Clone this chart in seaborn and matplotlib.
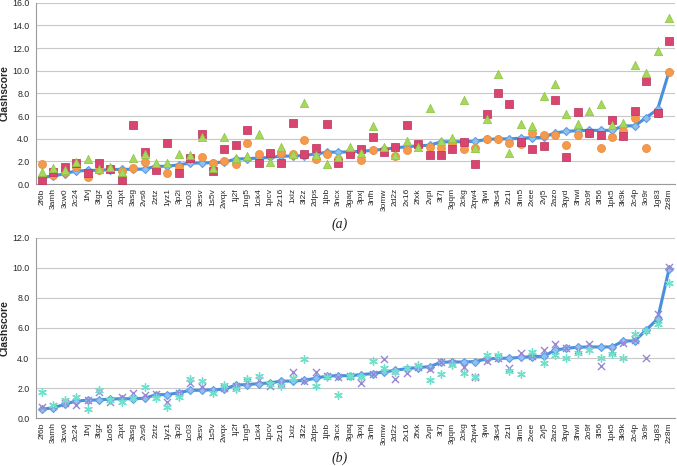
import numpy as np
import pandas as pd
import matplotlib
matplotlib.use("Agg")
import matplotlib.pyplot as plt
import seaborn as sns

# --- data ---
pdb_ids = ["2f6b", "3amh", "3cw0", "2c24", "1fvj", "3tgz", "1o65", "2qxt", "3asg", "2vs6",
           "2ztz", "1yz1", "3p2i", "1c03", "3esv", "1s5v", "2wqx", "1j2f", "1ng5", "1ck4",
           "1pcv", "2z16", "1xiz", "3l2z", "2dps", "1jbb", "3ncx", "3gaq", "3pxj", "3nfh",
           "3omw", "2d2z", "2x16", "2fxk", "2vpi", "3t7j", "3gqm", "2ckg", "2qw4", "3jwi",
           "3ks4", "2z1i", "3im5", "2xee", "2vj5", "2azo", "3qyd", "3hwi", "2o9f", "3l56",
           "1pk5", "3k9k", "2c4p", "3o9r", "1g83", "2z8m"]

reference = [0.60, 0.70, 0.93, 1.15, 1.20, 1.22, 1.28, 1.30, 1.30, 1.33,
             1.57, 1.57, 1.70, 1.86, 1.86, 1.90, 1.93, 2.21, 2.24, 2.30,
             2.35, 2.47, 2.47, 2.52, 2.66, 2.81, 2.83, 2.83, 2.90, 2.97,
             3.08, 3.19, 3.30, 3.37, 3.43, 3.72, 3.74, 3.74, 3.77, 3.94,
             3.99, 3.99, 4.05, 4.10, 4.12, 4.52, 4.65, 4.72, 4.74, 4.74,
             4.74, 5.14, 5.14, 5.87, 6.60, 9.90]

set_orange = [1.74, 0.80, 1.09, 1.53, 0.65, 1.24, 1.30, 1.18, 1.44, 1.97,
              1.29, 0.94, 1.53, 2.32, 2.41, 1.82, 2.03, 1.76, 3.59, 2.65,
              2.65, 2.71, 2.65, 3.88, 2.20, 2.62, 2.20, 2.76, 2.12, 3.00,
              3.00, 2.47, 3.00, 3.44, 3.24, 3.15, 3.59, 3.06, 3.15, 4.00,
              4.00, 3.59, 3.50, 4.53, 4.35, 4.35, 3.44, 4.35, 4.53, 3.21,
              4.12, 4.68, 5.79, 3.21, 6.24, 9.85]

set_pink = [0.35, 1.09, 1.47, 1.82, 1.00, 1.88, 1.30, 0.35, 5.20, 2.79,
            1.24, 3.65, 0.94, 2.26, 4.38, 1.15, 3.09, 3.41, 4.76, 1.82,
            2.71, 1.82, 5.35, 2.65, 3.15, 5.29, 1.82, 2.65, 3.06, 4.12,
            2.85, 3.24, 5.20, 3.53, 2.56, 2.56, 3.06, 3.74, 1.74, 6.18,
            8.06, 7.03, 3.68, 3.06, 3.38, 7.41, 2.41, 6.38, 4.47, 4.32,
            5.65, 4.24, 6.44, 9.12, 6.24, 12.65]

set_green = [1.09, 1.38, 1.24, 1.97, 2.18, 1.29, 1.53, 1.09, 2.32, 2.62,
             1.88, 1.88, 2.62, 2.56, 4.18, 1.38, 4.18, 2.26, 2.47, 4.41,
             1.97, 3.29, 2.62, 7.18, 2.56, 1.76, 2.35, 3.24, 2.70, 5.12,
             3.24, 2.56, 3.82, 3.24, 6.68, 3.82, 4.03, 7.41, 3.15, 5.70,
             9.70, 2.76, 5.29, 5.12, 7.76, 8.82, 6.15, 5.26, 6.44, 7.03,
             5.20, 5.35, 10.50, 9.82, 11.74, 14.70]

set_purple = [0.78, 0.80, 1.00, 0.90, 1.22, 1.77, 1.06, 1.44, 1.66, 1.55,
              1.60, 1.06, 1.70, 2.33, 2.06, 1.77, 2.00, 2.15, 2.44, 2.52,
              2.15, 2.33, 3.10, 2.48, 3.06, 2.81, 2.77, 2.83, 2.33, 2.97,
              3.92, 2.61, 2.99, 3.43, 3.28, 3.77, 3.70, 3.43, 2.72, 3.81,
              3.99, 3.37, 4.32, 4.14, 4.54, 4.94, 4.65, 4.54, 4.92, 3.50,
              4.47, 4.98, 5.20, 3.99, 6.91, 10.06]

set_cyan = [1.77, 0.88, 1.22, 1.44, 0.64, 1.88, 1.20, 1.06, 1.33, 2.08,
            1.37, 0.78, 1.44, 2.61, 2.48, 1.66, 2.21, 1.93, 2.61, 2.83,
            2.30, 2.15, 2.66, 3.92, 2.15, 2.77, 1.55, 2.83, 2.77, 3.81,
            3.32, 3.10, 3.32, 3.54, 2.55, 2.95, 3.54, 3.03, 2.77, 4.21,
            4.21, 3.17, 2.95, 4.39, 3.70, 4.21, 4.03, 4.32, 4.54, 3.99,
            4.27, 4.03, 5.58, 5.80, 6.27, 9.01]

df = pd.DataFrame({
    "pos": np.arange(len(pdb_ids)),
    "pdb": pdb_ids,
    "reference": reference,
    "orange": set_orange,
    "pink": set_pink,
    "green": set_green,
    "purple": set_purple,
    "cyan": set_cyan,
})

sns.set_theme(style="white")
plt.rcParams["font.family"] = ["Liberation Sans", "DejaVu Sans"]

fig = plt.figure(figsize=(6.77, 4.66), dpi=100)
ax_a = fig.add_axes([0.0536, 0.605, 0.943, 0.389])
ax_b = fig.add_axes([0.0536, 0.1024, 0.943, 0.3876])

grid_col = "#c8c8c8"
blue = "#4a8fdc"


def draw_reference(ax):
    sns.lineplot(data=df, x="pos", y="reference", ax=ax, color=blue, linewidth=2.2,
                 marker="D", markersize=4.2, markerfacecolor="#8ec0f2",
                 markeredgecolor="#5b9de3", markeredgewidth=0.8, zorder=2)


def style_axis(ax, ymax):
    ax.set_xlim(-0.5, len(pdb_ids) - 0.5)
    ax.set_ylim(0, ymax)
    ax.set_yticks(np.arange(0, ymax + 0.1, 2.0))
    ax.set_yticklabels([f"{v:.1f}" for v in np.arange(0, ymax + 0.1, 2.0)], fontsize=6.3)
    ax.set_xticks(df["pos"])
    ax.set_xticklabels(df["pdb"], rotation=90, fontsize=6.0)
    ax.set_xticks(np.arange(-0.5, len(pdb_ids), 1.0), minor=True)
    ax.tick_params(axis="x", which="major", length=0, pad=3)
    ax.tick_params(axis="x", which="minor", length=4, width=0.6, color="#9a9a9a", direction="out")
    ax.tick_params(axis="y", length=3, width=0.6, color="#9a9a9a", pad=2, direction="out")
    ax.yaxis.grid(True, color=grid_col, linewidth=0.8)
    ax.set_axisbelow(True)
    for side in ["top", "right"]:
        ax.spines[side].set_visible(False)
    for side in ["left", "bottom"]:
        ax.spines[side].set_color("#9a9a9a")
        ax.spines[side].set_linewidth(0.8)
    ax.set_xlabel("")
    ax.set_ylabel("Clashscore", fontsize=7.5, fontweight="bold")
    ax.yaxis.set_label_coords(-0.041, 0.5)


# panel (a)
draw_reference(ax_a)
sns.scatterplot(data=df, x="pos", y="orange", ax=ax_a, marker="o", s=34,
                color="#f59a4c", edgecolor="#e98a3c", linewidth=0.5, zorder=3)
sns.scatterplot(data=df, x="pos", y="pink", ax=ax_a, marker="s", s=30,
                color="#d9456e", edgecolor="#b9305a", linewidth=0.5, zorder=4)
sns.scatterplot(data=df, x="pos", y="green", ax=ax_a, marker="^", s=36,
                color="#a6d85e", edgecolor="#8cc441", linewidth=0.5, zorder=5)
style_axis(ax_a, 16.0)

# panel (b)
draw_reference(ax_b)
sns.scatterplot(data=df, x="pos", y="purple", ax=ax_b, marker="x", s=26,
                color="#9a86d2", linewidth=1.0, zorder=3)
sns.scatterplot(data=df, x="pos", y="cyan", ax=ax_b, marker=(6, 2, 0), s=30,
                color="#6fe0cc", linewidth=1.0, zorder=4)
style_axis(ax_b, 12.0)

fig.text(0.502, 0.519, "(a)", ha="center", va="center", fontsize=10,
         style="italic", family=["Liberation Serif", "DejaVu Serif"])
fig.text(0.502, 0.017, "(b)", ha="center", va="center", fontsize=10,
         style="italic", family=["Liberation Serif", "DejaVu Serif"])

fig.savefig("out.png", dpi=100)
